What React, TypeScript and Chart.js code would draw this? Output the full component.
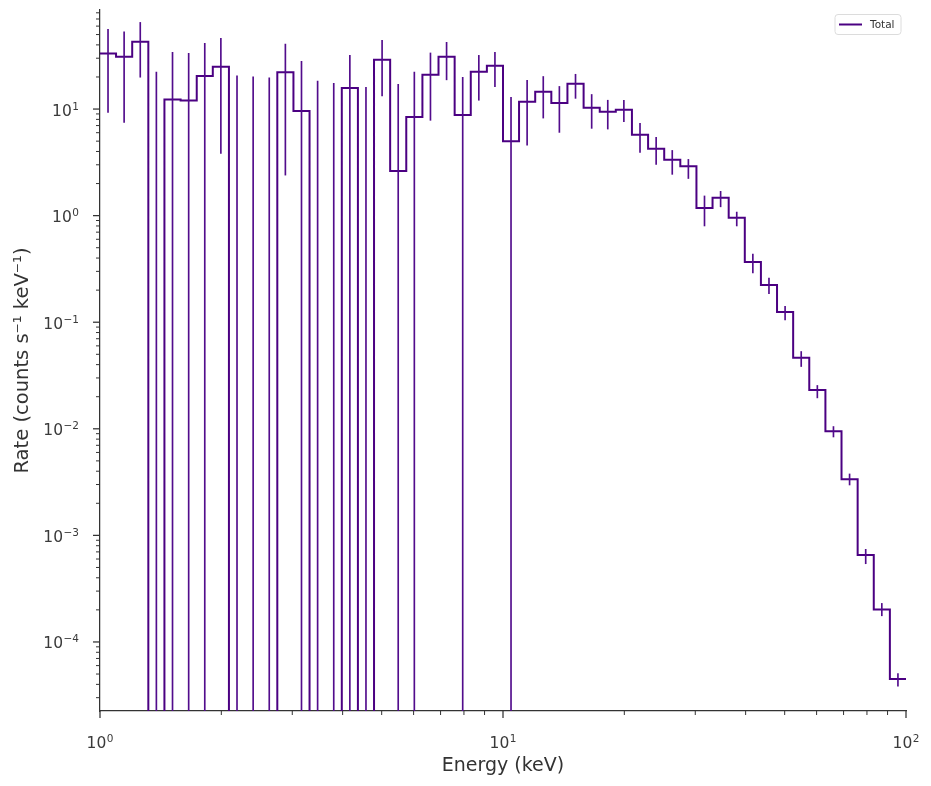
import React, { useEffect, useRef } from 'react';
import { Chart, registerables } from 'chart.js';

Chart.register(...registerables);

// Bin edges (keV), 25 log bins per decade
const energyEdges = [
  1.0, 1.096, 1.202, 1.318, 1.445, 1.585, 1.738, 1.905, 2.089, 2.291,
  2.512, 2.754, 3.02, 3.311, 3.631, 3.981, 4.365, 4.786, 5.248, 5.754,
  6.31, 6.918, 7.586, 8.318, 9.12, 10.0, 10.96, 12.02, 13.18, 14.45,
  15.85, 17.38, 19.05, 20.89, 22.91, 25.12, 27.54, 30.2, 33.11, 36.31,
  39.81, 43.65, 47.86, 52.48, 57.54, 63.1, 69.18, 75.86, 83.18, 91.2, 100.0,
];

// Rate per bin (counts s^-1 keV^-1); 0 = empty bin
const rate = [
  33.3, 31.0, 42.8, 0, 12.3, 12.0, 20.4, 24.9, 0, 0,
  0, 22.1, 9.6, 0, 0, 15.8, 0, 29.0, 2.62, 8.41,
  21.0, 31.0, 8.79, 22.4, 25.5, 5.0, 11.7, 14.5, 11.4, 17.3,
  10.3, 9.44, 9.85, 5.74, 4.24, 3.34, 2.9, 1.18, 1.47, 0.953,
  0.368, 0.224, 0.125, 0.0463, 0.0231, 0.00948, 0.00336, 0.000653, 0.000202, 4.48e-5,
];

// Lower end of error bar (0 = reaches below the axis)
const rateLow = [
  9.3, 7.5, 19.9, 0, 0, 0, 0, 3.84, 0, 0,
  0, 2.4, 0, 0, 0, 0, 0, 13.3, 0, 0,
  7.84, 18.8, 0, 12.1, 16.2, 0, 4.59, 8.23, 6.04, 12.6,
  6.59, 6.49, 7.6, 3.92, 3.03, 2.44, 2.23, 0.8, 1.21, 0.8,
  0.29, 0.185, 0.105, 0.0384, 0.0195, 0.00838, 0.00297, 0.000542, 0.000176, 3.85e-5,
];

// Upper end of error bar
const rateHigh = [
  56, 53, 65, 22.2, 34, 33.3, 41.4, 46.1, 20.5, 20.1,
  19.6, 40.7, 28, 18.3, 17.4, 31.9, 16.0, 44.2, 17.1, 22.2,
  33.6, 42.3, 19.8, 31.9, 34.0, 12.9, 18.6, 20.2, 16.3, 21.2,
  13.7, 12.1, 12.1, 7.34, 5.42, 4.09, 3.37, 1.53, 1.69, 1.08,
  0.435, 0.259, 0.141, 0.0531, 0.0255, 0.0105, 0.00377, 0.00074, 0.00023, 5.06e-5,
];

const xRange = [1, 100];
const yRange = [2.25e-5, 85];
// Decade exponents used for tick marks and "10^n" tick labels
const xDecades = [0, 1, 2];
const yDecades = [-5, -4, -3, -2, -1, 0, 1];

const seriesLabel = 'Total';
const xTitle = 'Energy (keV)';
const yTitle = 'Rate (counts s\u207B\u00B9 keV\u207B\u00B9)';

const COLOR = '#4B0082';
const ERR_COLOR = '#520c8c';
const AXIS = '#333333';
const LABEL = '#3a3a3a';
const FLOOR = 1e-9;

const tickPlugin = {
  id: 'logTickMarks',
  afterDraw(chart: any) {
    const { ctx, chartArea, scales } = chart;
    ctx.save();
    ctx.strokeStyle = AXIS;
    const draw = (scale: any, decades: number[], range: number[], horizontal: boolean) => {
      for (const d of decades) {
        for (let k = 1; k <= 9; k++) {
          const v = k * Math.pow(10, d);
          if (v < range[0] * 0.9999 || v > range[1] * 1.0001) continue;
          const p = scale.getPixelForValue(v);
          const major = k === 1;
          const len = major ? 7 : 4;
          ctx.lineWidth = major ? 1.25 : 1;
          ctx.beginPath();
          if (horizontal) {
            ctx.moveTo(p, chartArea.bottom);
            ctx.lineTo(p, chartArea.bottom + len);
          } else {
            ctx.moveTo(chartArea.left, p);
            ctx.lineTo(chartArea.left - len, p);
          }
          ctx.stroke();
        }
      }
    };
    draw(scales.x, xDecades, xRange, true);
    draw(scales.y, yDecades, yRange, false);
    ctx.restore();
  },
};

const labelPlugin = {
  id: 'powLabels',
  afterDraw(chart: any) {
    const { ctx, chartArea, scales } = chart;
    const baseFont = '15.5px "DejaVu Sans", sans-serif';
    const expFont = '10.5px "DejaVu Sans", sans-serif';
    const expText = (d: number) => (d < 0 ? '\u2212' + Math.abs(d) : String(d));
    ctx.save();
    ctx.fillStyle = LABEL;
    ctx.textBaseline = 'alphabetic';
    ctx.textAlign = 'left';
    const widths = (exp: string) => {
      ctx.font = baseFont;
      const wb = ctx.measureText('10').width;
      ctx.font = expFont;
      const we = ctx.measureText(exp).width;
      return [wb, we];
    };
    const drawLabel = (xLeft: number, baseline: number, exp: string, wb: number) => {
      ctx.font = baseFont;
      ctx.fillText('10', xLeft, baseline);
      ctx.font = expFont;
      ctx.fillText(exp, xLeft + wb + 0.5, baseline - 6);
    };
    for (const d of yDecades) {
      const v = Math.pow(10, d);
      if (v < yRange[0] || v > yRange[1]) continue;
      const y = scales.y.getPixelForValue(v);
      const exp = expText(d);
      const [wb, we] = widths(exp);
      drawLabel(chartArea.left - 21 - wb - we - 0.5, y + 6.5, exp, wb);
    }
    for (const d of xDecades) {
      const v = Math.pow(10, d);
      if (v < xRange[0] || v > xRange[1]) continue;
      const x = scales.x.getPixelForValue(v);
      const exp = expText(d);
      const [wb, we] = widths(exp);
      drawLabel(x - (wb + we + 0.5) / 2, chartArea.bottom + 37, exp, wb);
    }
    ctx.restore();
  },
};

const legendPlugin = {
  id: 'boxLegend',
  afterDraw(chart: any) {
    const { ctx, chartArea } = chart;
    const w = 66;
    const h = 20;
    const x0 = chartArea.right - 5 - w;
    const y0 = chartArea.top + 4.5;
    ctx.save();
    ctx.beginPath();
    const r = 3;
    ctx.moveTo(x0 + r, y0);
    ctx.arcTo(x0 + w, y0, x0 + w, y0 + h, r);
    ctx.arcTo(x0 + w, y0 + h, x0, y0 + h, r);
    ctx.arcTo(x0, y0 + h, x0, y0, r);
    ctx.arcTo(x0, y0, x0 + w, y0, r);
    ctx.closePath();
    ctx.fillStyle = 'rgba(255,255,255,0.85)';
    ctx.fill();
    ctx.strokeStyle = '#dcdcdc';
    ctx.lineWidth = 1;
    ctx.stroke();
    ctx.strokeStyle = COLOR;
    ctx.lineWidth = 2;
    ctx.beginPath();
    ctx.moveTo(x0 + 4, y0 + h / 2);
    ctx.lineTo(x0 + 27, y0 + h / 2);
    ctx.stroke();
    ctx.fillStyle = '#333';
    ctx.font = '10.5px "DejaVu Sans"';
    ctx.textBaseline = 'middle';
    ctx.textAlign = 'left';
    ctx.fillText(seriesLabel, x0 + 35, y0 + h / 2 + 0.5);
    ctx.restore();
  },
};

export default function App() {
  const ref = useRef<HTMLCanvasElement | null>(null);

  useEffect(() => {
    if (!ref.current) return;
    Chart.defaults.font.family = '"DejaVu Sans", sans-serif';

    const stepData = energyEdges.map((e, i) => ({
      x: e,
      y: Math.max(rate[Math.min(i, rate.length - 1)], FLOOR),
    }));
    const centers = rate.map((_, i) => Math.sqrt(energyEdges[i] * energyEdges[i + 1]));
    const errData = centers.map((c, i) => ({
      x: c,
      y: [Math.max(rateLow[i], FLOOR), rateHigh[i]],
    }));

    const chart = new Chart(ref.current, {
      type: 'line',
      data: {
        datasets: [
          {
            type: 'bar',
            label: 'err',
            data: errData as any,
            backgroundColor: ERR_COLOR,
            borderWidth: 0,
            barThickness: 1,
            grouped: false,
            order: 1,
          } as any,
          {
            type: 'line',
            label: seriesLabel,
            data: stepData,
            stepped: 'before',
            borderColor: COLOR,
            borderWidth: 2,
            pointRadius: 0,
            fill: false,
            tension: 0,
            order: 2,
          } as any,
        ],
      },
      options: {
        responsive: false,
        animation: false,
        devicePixelRatio: 1,
        layout: { padding: { top: 10, right: 25, left: 0, bottom: 0 } },
        plugins: {
          legend: { display: false },
          tooltip: { enabled: false },
        },
        scales: {
          x: {
            type: 'logarithmic',
            min: xRange[0],
            max: xRange[1],
            offset: false,
            grid: { display: false, drawTicks: false, tickLength: 0 },
            border: { display: true, color: AXIS, width: 1.25 },
            ticks: { display: false },
            title: {
              display: true,
              text: xTitle,
              color: '#333',
              font: { size: 19 },
              padding: { top: 0, bottom: 9 },
            },
            afterFit: (s: any) => {
              s.height = 75;
              s.paddingLeft = 0;
              s.paddingRight = 0;
              s.paddingTop = 0;
              s.paddingBottom = 0;
            },
          },
          y: {
            type: 'logarithmic',
            min: yRange[0],
            max: yRange[1],
            grid: { display: false, drawTicks: false, tickLength: 0 },
            border: { display: true, color: AXIS, width: 1.25 },
            ticks: { display: false },
            title: {
              display: true,
              text: yTitle,
              color: '#333',
              font: { size: 19.5 },
              padding: { top: 11, bottom: 0 },
            },
            afterFit: (s: any) => {
              s.width = 100;
              s.paddingLeft = 0;
              s.paddingRight = 0;
              s.paddingTop = 0;
              s.paddingBottom = 0;
            },
          },
        },
      } as any,
      plugins: [tickPlugin, labelPlugin, legendPlugin],
    });
    return () => chart.destroy();
  }, []);

  return (
    <div style={{ position: 'absolute', left: 0, top: 0, width: 931, height: 786, background: '#fff' }}>
      <canvas ref={ref} width={931} height={786} style={{ display: 'block' }} />
    </div>
  );
}
